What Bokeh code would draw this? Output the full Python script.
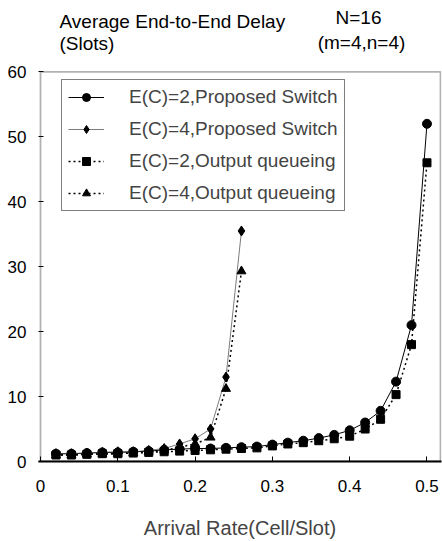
from bokeh.plotting import figure
from bokeh.models import Range1d, FixedTicker, Label, Legend, LegendItem, BoxAnnotation
from bokeh.embed import file_html
from bokeh.resources import INLINE

# Data
x_full = [0.02, 0.04, 0.06, 0.08, 0.10, 0.12, 0.14, 0.16, 0.18, 0.20, 0.22, 0.24, 0.26,
          0.28, 0.30, 0.32, 0.34, 0.36, 0.38, 0.40, 0.42, 0.44, 0.46, 0.48, 0.50]
x_short = [0.02, 0.04, 0.06, 0.08, 0.10, 0.12, 0.14, 0.16, 0.18, 0.20, 0.22, 0.24, 0.26]
ec2_proposed = [1.2, 1.2, 1.3, 1.4, 1.4, 1.5, 1.6, 1.8, 1.9, 2.0, 2.0, 2.1, 2.2,
                2.3, 2.6, 2.9, 3.2, 3.6, 4.1, 4.8, 6.0, 7.8, 12.3, 21.0, 52.0]
ec2_output = [1.0, 1.0, 1.1, 1.2, 1.2, 1.3, 1.4, 1.5, 1.6, 1.7, 1.8, 1.9, 2.0,
              2.1, 2.4, 2.7, 2.9, 3.2, 3.5, 3.9, 5.0, 6.5, 10.3, 18.0, 46.0]
ec4_proposed = [1.2, 1.2, 1.3, 1.4, 1.5, 1.5, 1.7, 2.0, 2.7, 3.5, 5.0, 13.0, 35.5]
ec4_output = [1.0, 1.0, 1.1, 1.2, 1.2, 1.3, 1.5, 1.7, 2.2, 2.7, 3.7, 11.2, 29.3]

series_labels = ["E(C)=2,Proposed Switch", "E(C)=4,Proposed Switch",
                 "E(C)=2,Output queueing", "E(C)=4,Output queueing"]
x_ticks = [0, 0.1, 0.2, 0.3, 0.4, 0.5]
x_tick_labels = ["0", "0.1", "0.2", "0.3", "0.4", "0.5"]
y_ticks = [0, 10, 20, 30, 40, 50, 60]
y_max = 60
x_frame_max = 0.5175
y_label_line1 = "Average End-to-End Delay"
y_label_line2 = "(Slots)"
note_line1 = "N=16"
note_line2 = "(m=4,n=4)"
x_label = "Arrival Rate(Cell/Slot)"

FONT = "Liberation Sans"
FRAME_LEFT = 38
FRAME_BOTTOM = 462

p = figure(width=442, height=541, output_backend="svg", toolbar_location=None,
           x_range=Range1d(-0.0026, 0.5188), y_range=Range1d(0, 70.99),
           min_border_left=FRAME_LEFT, min_border_right=1, min_border_top=0,
           min_border_bottom=541 - FRAME_BOTTOM)
p.background_fill_color = "white"
p.border_fill_color = "white"
p.outline_line_color = None
p.xgrid.visible = False
p.ygrid.visible = False

# frame box drawn only up to the top value of the axis
p.add_layout(BoxAnnotation(left=0, right=x_frame_max, bottom=0, top=y_max,
                           fill_alpha=0, line_color="black", line_width=1.8))

p.xaxis.ticker = FixedTicker(ticks=x_ticks)
p.xaxis.major_label_overrides = {t: l for t, l in zip(x_ticks, x_tick_labels)}
p.yaxis.ticker = FixedTicker(ticks=y_ticks)
p.xaxis.minor_tick_line_color = None
p.yaxis.minor_tick_line_color = None
for ax in (p.xaxis, p.yaxis):
    ax.major_tick_line_color = "black"
    ax.major_tick_in = 5
    ax.major_tick_out = 0
    ax.major_label_text_font = FONT
    ax.major_label_text_font_size = "17px"
    ax.major_label_text_color = "black"
p.yaxis.axis_line_color = None
p.xaxis.axis_line_color = "black"
p.xaxis.axis_line_width = 2
p.xaxis.major_label_standoff = 18
p.yaxis.major_label_standoff = 12
p.xaxis.axis_label = x_label
p.xaxis.axis_label_text_font = FONT
p.xaxis.axis_label_text_font_size = "20px"
p.xaxis.axis_label_text_font_style = "normal"
p.xaxis.axis_label_standoff = 22

r1l = p.line(x_full, ec2_proposed, line_color="black", line_width=1)
r1m = p.scatter(x_full, ec2_proposed, marker="circle", size=9, fill_color="black", line_color="black")
r2l = p.line(x_short, ec4_proposed, line_color="#444444", line_width=0.7)
r2m = p.scatter(x_short, ec4_proposed, marker="diamond", size=10, fill_color="black", line_color="black")
r3l = p.line(x_full, ec2_output, line_color="black", line_width=1.5, line_dash="2 3")
r3m = p.scatter(x_full, ec2_output, marker="square", size=8, fill_color="black", line_color="black")
r4l = p.line(x_short, ec4_output, line_color="black", line_width=1.5, line_dash="2 3")
r4m = p.scatter(x_short, ec4_output, marker="triangle", size=9, fill_color="black", line_color="black")

legend = Legend(items=[
    LegendItem(label=series_labels[0], renderers=[r1l, r1m]),
    LegendItem(label=series_labels[1], renderers=[r2l, r2m]),
    LegendItem(label=series_labels[2], renderers=[r3l, r3m]),
    LegendItem(label=series_labels[3], renderers=[r4l, r4m]),
], location=(61 - FRAME_LEFT, FRAME_BOTTOM - 212))
legend.label_text_font = FONT
legend.label_text_font_size = "19px"
legend.glyph_width = 36
legend.glyph_height = 20
legend.label_height = 20
legend.spacing = 10
legend.padding = 6
legend.label_standoff = 25
legend.border_line_color = "black"
legend.border_line_width = 1
legend.background_fill_alpha = 1
p.add_layout(legend)

for txt, px, py, align in [(y_label_line1, 59, 22, "left"), (y_label_line2, 59, 44, "left"),
                           (note_line1, 358, 18, "center"), (note_line2, 361, 43, "center")]:
    p.add_layout(Label(x=px - FRAME_LEFT, y=FRAME_BOTTOM - py, x_units="screen", y_units="screen",
                       text=txt, text_font=FONT, text_font_size="19px",
                       text_baseline="middle", text_align=align, text_color="black"))

open("out.html", "w").write(file_html(p, INLINE))
